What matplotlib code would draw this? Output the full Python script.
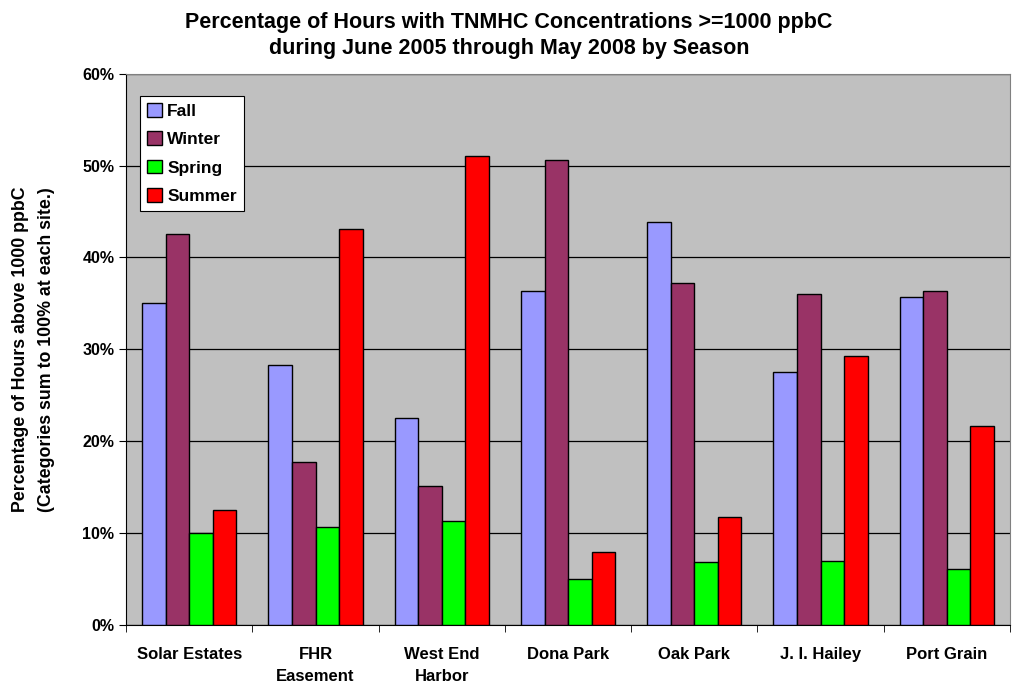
import numpy as np
import matplotlib
matplotlib.use("Agg")
import matplotlib.pyplot as plt
from matplotlib.ticker import FuncFormatter, FixedLocator

plt.rcParams['font.family'] = ['Liberation Sans', 'DejaVu Sans']
plt.rcParams['font.weight'] = 'bold'

# Data (percent)
sites = ["Solar Estates", "FHR\nEasement", "West End\nHarbor", "Dona Park",
         "Oak Park", "J. I. Hailey", "Port Grain"]
fall = [35.0, 28.3, 22.5, 36.4, 43.9, 27.5, 35.7]
winter = [42.5, 17.7, 15.1, 50.6, 37.2, 36.0, 36.4]
spring = [10.0, 10.7, 11.3, 5.0, 6.9, 7.0, 6.1]
summer = [12.5, 43.1, 51.0, 7.9, 11.7, 29.3, 21.6]

seasons = ["Fall", "Winter", "Spring", "Summer"]
colors = ["#9999FF", "#993366", "#00FF00", "#FF0000"]

fig = plt.figure(figsize=(10.18, 6.89), dpi=100)
ax = fig.add_axes([0.124, 0.093, 0.868, 0.80])
ax.set_facecolor("#C0C0C0")

x = np.arange(len(sites))
w = 0.1865
for i, (vals, name, c) in enumerate(zip([fall, winter, spring, summer], seasons, colors)):
    ax.bar(x + (i - 1.5) * w, vals, w, color=c, edgecolor="black", linewidth=1.0,
           label=name, zorder=3)

ax.set_xlim(-0.5, len(sites) - 0.5)
ax.set_ylim(0, 60)
ax.set_yticks(np.arange(0, 61, 10))
ax.yaxis.set_major_formatter(FuncFormatter(lambda v, p: f"{int(v)}%"))
ax.grid(axis="y", color="black", linewidth=0.9, zorder=1)

ax.set_xticks(x)
ax.set_xticklabels(sites, fontsize=12, fontweight="bold", linespacing=1.55)
ax.tick_params(axis="x", length=0, pad=16)
ax.xaxis.set_minor_locator(FixedLocator(np.arange(-0.5, len(sites), 1)))
ax.tick_params(axis="x", which="minor", length=5, color="black")
ax.tick_params(axis="y", length=5, labelsize=11.5, color="black")
for lbl in ax.get_yticklabels():
    lbl.set_fontweight("bold")

for s in ["top", "right"]:
    ax.spines[s].set_color("#808080")
ax.spines["left"].set_color("black")
ax.spines["bottom"].set_color("black")

ax.set_ylabel("Percentage of Hours above 1000 ppbC\n(Categories sum to 100% at each site.)",
              fontsize=12.8, fontweight="bold", labelpad=20, linespacing=1.7)

fig.suptitle("Percentage of Hours with TNMHC Concentrations >=1000 ppbC\n"
             "during June 2005 through May 2008 by Season",
             fontsize=15.5, fontweight="bold", y=0.983, linespacing=1.3)

leg = ax.legend(loc="upper left", bbox_to_anchor=(0.016, 0.96), fontsize=12.5,
                frameon=True, fancybox=False, edgecolor="black", facecolor="white",
                framealpha=1, handlelength=0.85, handleheight=0.85, handletextpad=0.3,
                labelspacing=0.72, borderpad=0.4, borderaxespad=0)
leg.get_frame().set_linewidth(0.8)
for t in leg.get_texts():
    t.set_fontweight("bold")

fig.savefig("out.png", dpi=100)
